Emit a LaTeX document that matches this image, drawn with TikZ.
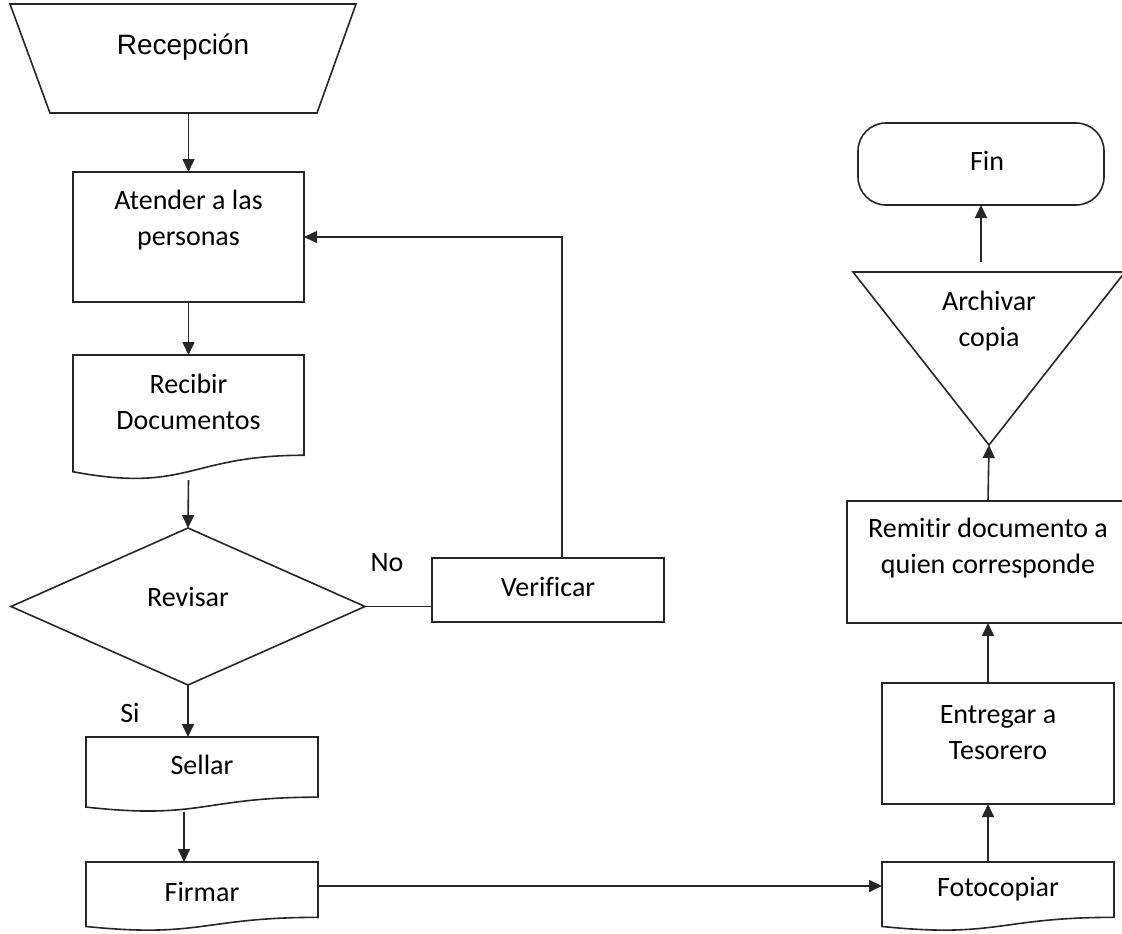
\documentclass[tikz,border=0pt]{standalone}
\usepackage{fontspec}
\setmainfont{Carlito}[Ligatures=NoCommon]
\newfontfamily\arialfont{Liberation Sans}
\usetikzlibrary{arrows.meta,calc,shapes.geometric}

\tikzset{
  line/.style={draw=black!85, line width=1.6pt},
  arr/.style={line, -{Triangle[length=13pt,width=12pt]}},
  txt/.style={font=\fontsize{28}{36}\selectfont, align=center, inner sep=0pt},
  ghost/.style={rectangle, inner sep=0pt, outer sep=0pt},
  stepbox/.style={ghost, line},
}

% document symbol with wavy bottom
\newcommand{\docshape}[1]{%
  \draw[line] (#1.north west) -- (#1.north east)
    -- ($(#1.north east)!0.802!(#1.south east)$)
    .. controls ($(#1.north)!0.802!(#1.south)$) and ($(#1.north)!1.107!(#1.south)$)
    .. ($(#1.north west)!0.934!(#1.south west)$) -- cycle;}

\begin{document}
\begin{tikzpicture}[x=1pt,y=-1pt]
    \useasboundingbox (0,0) rectangle (1122,934);

    % left column
    \node[ghost, minimum width=346pt, minimum height=109pt,
      label={[txt,font=\arialfont\fontsize{28}{34}\selectfont,yshift=11.5pt]center:Recepción}] (recepcion) at (183,58.5) {};
    \draw[line] (recepcion.north west) -- (recepcion.north east)
      -- ([xshift=-39pt]recepcion.south east) -- ([xshift=40pt]recepcion.south west) -- cycle;

    \node[stepbox, minimum width=231pt, minimum height=130pt,
      label={[txt,yshift=17pt]center:Atender a las\\personas}] (atender) at (188.5,237) {};

    \node[ghost, minimum width=231pt, minimum height=125pt,
      label={[txt,yshift=15.5pt]center:Recibir\\Documentos}] (recibir) at (188.5,417.5) {};
    \docshape{recibir}

    \node[stepbox, diamond, minimum width=354pt, minimum height=157pt,
      label={[txt,yshift=10pt]center:Revisar}] (revisar) at (188,606.5) {};

    \node[stepbox, minimum width=232pt, minimum height=64pt,
      label={[txt,yshift=3pt]center:Verificar}] (verificar) at (548,590) {};

    \node[ghost, minimum width=232pt, minimum height=75pt,
      label={[txt,yshift=9.5pt]center:Sellar}] (sellar) at (202,774.5) {};
    \docshape{sellar}

    \node[ghost, minimum width=232pt, minimum height=69pt,
      label={[txt,yshift=4.5pt]center:Firmar}] (firmar) at (202,896.5) {};
    \docshape{firmar}

    \node[txt] (nolbl) at (387,563) {No};
    \node[txt] (silbl) at (130,713) {Si};

    % right column
    \node[ghost, minimum width=232pt, minimum height=69pt,
      label={[txt,yshift=7.5pt]center:Fotocopiar}] (foto) at (998,896.5) {};
    \docshape{foto}

    \node[stepbox, minimum width=232pt, minimum height=121pt,
      label={[txt,yshift=10.5pt]center:Entregar a\\Tesorero}] (entregar) at (998,743.5) {};

    \node[stepbox, minimum width=282pt, minimum height=122pt,
      label={[txt,yshift=13.5pt]center:Remitir documento a\\quien corresponde}] (remitir) at (988,562) {};

    \node[ghost, minimum width=272pt, minimum height=173pt,
      label={[txt,yshift=37.5pt]center:Archivar\\copia}] (archivar) at (989,358.5) {};
    \draw[line] (archivar.north west) -- (archivar.north east) -- (archivar.south) -- cycle;

    \node[stepbox, rounded corners=28pt, minimum width=246pt, minimum height=82pt,
      label={[txt,xshift=6pt,yshift=3pt]center:Fin}] (fin) at (981,164) {};

    % connectors
    \draw[arr] (atender.north |- recepcion.south) -- (atender.north);
    \draw[arr] (atender.south) -- (recibir.north);
    \draw[arr] (recibir.south) -- (revisar.north);
    \draw[arr] (revisar.south) -- (revisar.south |- sellar.north);
    \draw[arr] ([xshift=-18pt]sellar.south) -- ([xshift=-18pt]firmar.north);
    \draw[line] (revisar.east) -- (revisar.east -| verificar.west);
    \draw[arr] ([xshift=14pt]verificar.north) |- (atender.east);
    \draw[arr] ([yshift=10.5pt]firmar.east) -- ([yshift=10.5pt]firmar.east -| foto.west);
    \draw[arr] (remitir.south |- foto.north) -- (remitir.south |- entregar.south);
    \draw[arr] (remitir.south |- entregar.north) -- (remitir.south);
    \draw[arr] (remitir.north) -- (archivar.south);
    \draw[arr, shorten <=10pt] (fin.south |- archivar.north) -- (fin.south);
\end{tikzpicture}
\end{document}
